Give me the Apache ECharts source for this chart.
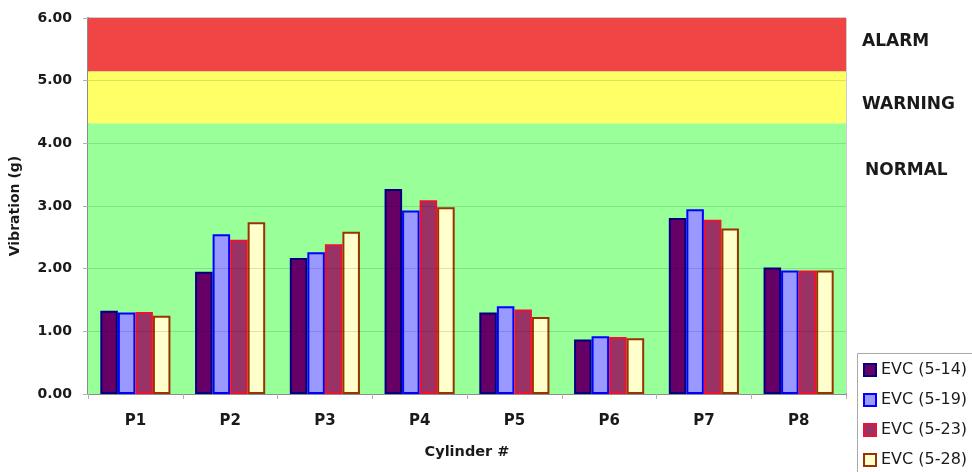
<!DOCTYPE html>
<html>
<head>
<meta charset="utf-8">
<title>Cylinder Vibration</title>
<script src="https://cdn.jsdelivr.net/npm/echarts@6/dist/echarts.min.js"></script>
<style>
  html, body { margin: 0; padding: 0; background: #ffffff; }
  #chart { width: 972px; height: 472px; }
</style>
</head>
<body>
<div id="chart"></div>
<script>
// Cylinders on the x axis
const cylinders = ['P1', 'P2', 'P3', 'P4', 'P5', 'P6', 'P7', 'P8'];

// Vibration readings (g) per survey date
const seriesNames = ['EVC (5-14)', 'EVC (5-19)', 'EVC (5-23)', 'EVC (5-28)'];
const evc0514 = [1.33, 1.95, 2.17, 3.27, 1.30, 0.87, 2.81, 2.02];
const evc0519 = [1.30, 2.55, 2.26, 2.93, 1.40, 0.92, 2.95, 1.97];
const evc0523 = [1.31, 2.46, 2.39, 3.09, 1.35, 0.91, 2.78, 1.97];
const evc0528 = [1.25, 2.74, 2.59, 2.98, 1.23, 0.89, 2.64, 1.97];

// Severity zones (g)
const zoneNames = ['NORMAL', 'WARNING', 'ALARM'];
const zoneLimits = [0, 4.32, 5.15, 6];

// Y axis range
const yMin = 0, yMax = 6, yStep = 1;
const gridValues = [1, 2, 3, 4, 5];

const fills = ['#660066', '#9999ff', '#993366', '#ffffcc'];
const borders = ['#000080', '#0000ff', '#ee1133', '#993300'];
const zoneColors = ['#99ff99', '#ffff66', '#f04545'];

const values = [evc0514, evc0519, evc0523, evc0528];

const chart = echarts.init(document.getElementById('chart'), null, { renderer: 'canvas' });

const barSeries = seriesNames.map((name, i) => ({
  name: name,
  type: 'bar',
  data: values[i],
  barGap: '0%',
  barCategoryGap: '26%',
  z: 3,
  itemStyle: { color: fills[i], borderColor: borders[i], borderWidth: 2 }
}));

// Background zones and faint grid lines drawn beneath the bars
const zoneSeries = {
  name: 'zones',
  type: 'line',
  data: [],
  silent: true,
  z: 1,
  markArea: {
    silent: true,
    label: { show: false },
    data: zoneNames.map((n, i) => [
      { yAxis: zoneLimits[i], itemStyle: { color: zoneColors[i], opacity: 1 } },
      { yAxis: zoneLimits[i + 1] }
    ])
  },
  markLine: {
    silent: true,
    symbol: 'none',
    label: { show: false },
    lineStyle: { color: 'rgba(0,0,0,0.12)', type: 'solid', width: 1 },
    data: gridValues.map(v => ({ yAxis: v }))
  }
};

const labelFont = 'DejaVu Sans';
const zoneFont = 'bold 17px "DejaVu Sans"';

chart.setOption({
  animation: false,
  backgroundColor: '#ffffff',
  grid: {
    left: 88, right: 126, top: 18, bottom: 78,
    show: true, borderColor: '#9a9a9a', borderWidth: 1, backgroundColor: 'transparent'
  },
  legend: {
    data: seriesNames,
    orient: 'vertical',
    left: 863,
    top: 362,
    padding: 0,
    icon: 'rect',
    itemWidth: 12,
    itemHeight: 12,
    itemGap: 14,
    textStyle: { fontFamily: labelFont, fontSize: 16, color: '#1a1a1a' }
  },
  xAxis: {
    type: 'category',
    data: cylinders,
    name: 'Cylinder #',
    nameLocation: 'middle',
    nameGap: 51,
    nameTextStyle: { fontFamily: labelFont, fontWeight: 'bold', fontSize: 14.5, color: '#1a1a1a' },
    axisLine: { lineStyle: { color: '#8c8c8c', width: 2 } },
    axisTick: { show: true, length: 5, lineStyle: { color: '#b0b0b0' } },
    axisLabel: { fontFamily: labelFont, fontWeight: 'bold', fontSize: 15, color: '#1a1a1a', margin: 20 },
    splitLine: { show: false }
  },
  yAxis: {
    type: 'value',
    min: yMin,
    max: yMax,
    interval: yStep,
    name: 'Vibration (g)',
    nameLocation: 'middle',
    nameGap: 66,
    nameTextStyle: { fontFamily: labelFont, fontWeight: 'bold', fontSize: 14, color: '#1a1a1a' },
    axisLine: { show: true, lineStyle: { color: '#8c8c8c', width: 2 } },
    axisTick: { show: true, length: 5, lineStyle: { color: '#b0b0b0' } },
    axisLabel: {
      fontFamily: labelFont, fontWeight: 'bold', fontSize: 14, color: '#1a1a1a', margin: 16,
      formatter: v => v.toFixed(2)
    },
    splitLine: { show: false }
  },
  graphic: [
    // legend frame, running off the right and bottom edges
    { type: 'rect', left: 857, top: 353, shape: { width: 130, height: 130 }, z: -1,
      style: { fill: '#ffffff', stroke: '#aaaaaa', lineWidth: 1 } },
    { type: 'text', left: 862, top: 33, style: { text: 'ALARM', font: zoneFont, fill: '#1a1a1a' } },
    { type: 'text', left: 862, top: 96, style: { text: 'WARNING', font: zoneFont, fill: '#1a1a1a' } },
    { type: 'text', left: 865, top: 162, style: { text: 'NORMAL', font: zoneFont, fill: '#1a1a1a' } }
  ],
  series: [zoneSeries].concat(barSeries)
});
</script>
</body>
</html>
